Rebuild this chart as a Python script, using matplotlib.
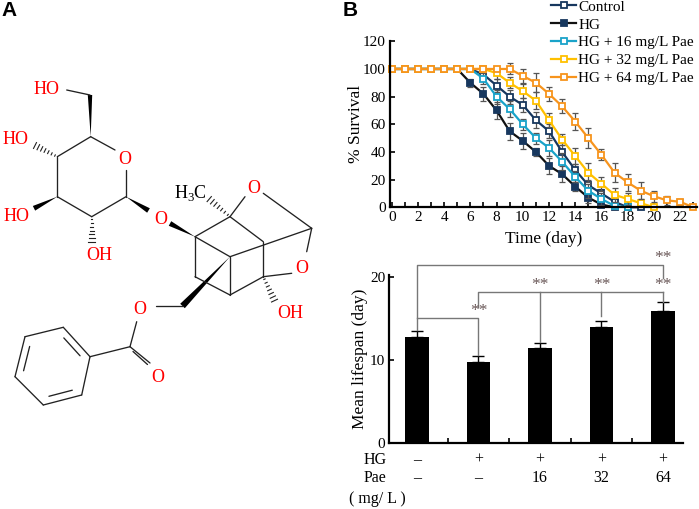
import matplotlib
matplotlib.use('Agg')
import matplotlib.pyplot as plt
from matplotlib.lines import Line2D
from matplotlib.patches import Polygon
import numpy as np

plt.rcParams['font.family'] = ['Liberation Serif', 'DejaVu Serif']
plt.rcParams['mathtext.fontset'] = 'custom'
plt.rcParams['mathtext.rm'] = 'Liberation Serif'

# ---- survival curves (% alive per day) ----
days_control = list(range(0, 20))
control = [100, 100, 100, 100, 100, 100, 100, 96, 88, 80, 74, 63, 55, 40, 27, 16, 10, 4, 0, 0]
control_err = [0, 0, 0, 0, 0, 0, 0, 3, 5, 5, 5, 6, 5, 5, 4, 4, 3, 2, 1, 0]

days_hg = list(range(0, 18))
hg = [100, 100, 100, 100, 100, 100, 90, 82, 70, 55, 48, 40, 30, 24, 15, 7, 2, 0]
hg_err = [0, 0, 0, 0, 0, 0, 3, 5, 6, 6, 6, 3, 6, 6, 3, 4, 2, 0]

days_hg16 = list(range(0, 19))
hg16 = [100, 100, 100, 100, 100, 100, 100, 93, 80, 71, 60, 50, 43, 33, 22, 12, 6, 1, 0]
hg16_err = [0, 0, 0, 0, 0, 0, 0, 4, 5, 6, 4, 4, 6, 6, 4, 5, 4, 2, 0]

days_hg32 = list(range(0, 21))
hg32 = [100, 100, 100, 100, 100, 100, 100, 100, 97, 90, 84, 77, 63, 49, 37, 25, 17, 9, 6, 3, 0]
hg32_err = [0, 0, 0, 0, 0, 0, 0, 0, 4, 4, 5, 6, 5, 4, 6, 7, 5, 5, 4, 3, 0]

days_hg64 = list(range(0, 24))
hg64 = [100, 100, 100, 100, 100, 100, 100, 100, 100, 100, 95, 90, 82, 73, 62, 50, 38, 25, 18, 12, 8, 5, 4, 0]
hg64_err = [0, 0, 0, 0, 0, 0, 0, 0, 0, 4, 5, 7, 5, 5, 6, 7, 4, 7, 6, 6, 4, 3, 2, 0]

series_labels = ['Control', 'HG', 'HG + 16 mg/L Pae', 'HG + 32 mg/L Pae', 'HG + 64 mg/L Pae']

# ---- mean lifespan ----
groups = [0, 1, 2, 3, 4]
lifespan = [12.7, 9.7, 11.4, 13.9, 15.9]
lifespan_err = [0.8, 0.8, 0.6, 0.8, 1.0]
hg_row = ['\u2013', '+', '+', '+', '+']
pae_row = ['\u2013', '\u2013', '16', '32', '64']

fig = plt.figure(figsize=(6.99, 5.09), dpi=100)

# ------------- panel A: structure, drawn in pixel coordinates -------------
mol = fig.add_axes([0, 0, 1, 1])
mol.set_xlim(0, 699)
mol.set_ylim(509, 0)
mol.axis('off')

BOND = '#222222'
RED = '#ff0000'


def bond(p, q, lw=0.95):
    mol.plot([p[0], q[0]], [p[1], q[1]], color=BOND, lw=lw, solid_capstyle='round')


def wedge(narrow, wide, w=2.6):
    a = np.array(narrow, float)
    b = np.array(wide, float)
    d = b - a
    n = np.array([-d[1], d[0]]) / np.hypot(*d)
    mol.add_patch(Polygon([a, b + n * w, b - n * w], closed=True, color='black', lw=0))


def hashed(narrow, wide, n=7, w=3.0):
    a = np.array(narrow, float)
    b = np.array(wide, float)
    d = b - a
    u = np.array([-d[1], d[0]]) / np.hypot(*d)
    for i in range(n):
        t = (i + 0.7) / n
        c = a + d * t
        h = 0.4 + w * t
        mol.plot([c[0] - u[0] * h, c[0] + u[0] * h], [c[1] - u[1] * h, c[1] + u[1] * h],
                 color=BOND, lw=0.8)


def label(x, y, s, color=RED):
    mol.text(x, y, s, color=color, fontsize=13, ha='center', va='center')


# glucose ring
C1, C2, C3, C4, C5 = (126, 196.7), (91.7, 216.7), (57.3, 196.7), (57.3, 156.7), (90.7, 136.7)
CH2 = (90, 95)
bond(C5, (115, 150))
bond((126, 169.5), C1)
bond(C1, C2)
bond(C2, C3)
bond(C3, C4)
bond(C4, C5)
wedge(C5, CH2, 2.2)
bond(CH2, (66.7, 90))
hashed(C4, (34, 145))
wedge(C3, (34, 208.3))
hashed(C2, (91.7, 243))
wedge(C1, (148.5, 210.5))
label(46.7, 89.3, 'HO')
label(16, 139.5, 'HO')
label(16.7, 216.5, 'HO')
label(99.3, 255.5, 'OH')
label(125, 160, 'O')
label(161, 219.5, 'O')

# cage
Ca, Cb, Cc, Cd = (195, 236.7), (230, 216.7), (263.3, 241.7), (263.3, 276.7)
Cx, Ce, Cf, Cac = (230, 256.7), (230, 295), (195, 276.7), (311.7, 228.3)
CH2b = (182.5, 306)
wedge(Ca, (170, 223.5))
bond(Ca, Cb)
hashed(Cb, (208.3, 198.3))
mol.text(190, 193, 'H$_3$C', color='black', fontsize=13, ha='center', va='center')
bond(Cb, (245, 196.7))
label(253.3, 188.5, 'O')
bond((263.3, 193.3), Cac)
bond(Cac, (306.7, 251.7))
label(301.7, 268.5, 'O')
bond((291.7, 273.3), Cd)
hashed(Cd, (275, 301.7))
label(290, 313.5, 'OH')
bond(Cb, Cc)
bond(Cc, Cd)
bond(Ca, Cx)
bond(Cx, Cac)
bond(Cx, Ce)
bond(Ca, Cf)
bond(Cf, Ce)
bond(Ce, Cd)
wedge(Cx, CH2b, 3.2)
bond(CH2b, (155.5, 306))
label(140, 309.5, 'O')

# benzoate
Ck = (130, 346.7)
bond((136.7, 321.7), Ck)
bond(Ck, (150, 363))
bond((133, 351.5), (147.5, 364.5))
label(157.3, 377.5, 'O')
ring = [(90, 356.7), (63.3, 327.3), (25, 336.7), (15, 376.7), (43.3, 405), (81.7, 395)]
bond(Ck, ring[0])
for i in range(6):
    bond(ring[i], ring[(i + 1) % 6])
ctr = np.mean(np.array(ring), axis=0)
for i in (0, 2, 4):
    p = np.array(ring[i]) + (ctr - np.array(ring[i])) * 0.2
    q = np.array(ring[i + 1]) + (ctr - np.array(ring[i + 1])) * 0.2
    p, q = p + (q - p) * 0.12, q - (q - p) * 0.12
    bond(p, q)

mol.text(9, 10.5, 'A', fontsize=15, fontweight='bold', family='Liberation Sans',
         ha='center', va='center')
mol.text(350.5, 10.5, 'B', fontsize=15, fontweight='bold', family='Liberation Sans',
         ha='center', va='center')

# ------------- panel B top: survival -------------
ax = fig.add_axes([390 / 699, 1 - 207.3 / 509, 307 / 699, 166 / 509])
ax.patch.set_alpha(0)
styles = [
    (days_control, control, control_err, '#17375e', 'white', '#17375e'),
    (days_hg, hg, hg_err, '#111111', '#17375e', '#17375e'),
    (days_hg16, hg16, hg16_err, '#1aa3c9', 'white', '#1aa3c9'),
    (days_hg32, hg32, hg32_err, '#ffc000', 'white', '#ffc000'),
    (days_hg64, hg64, hg64_err, '#f7941d', 'white', '#f7941d'),
]
handles = []
for (d, v, e, lc, fc, mc), lab in zip(styles, series_labels):
    ax.errorbar(d, v, yerr=e, fmt='none', ecolor='#555555', elinewidth=0.9,
                capsize=2.5, capthick=0.9, clip_on=False)
    ax.plot(d, v, color=lc, lw=1.6, marker='s', ms=5, mfc=fc, mec=mc, mew=1.3,
            clip_on=False)
    handles.append(Line2D([], [], color=lc, lw=1.6, marker='s', ms=5, mfc=fc,
                          mec=mc, mew=1.3, label=lab))

ax.set_xlim(-0.13, 23.29)
ax.set_ylim(0, 120)
ax.set_xticks(range(0, 23, 2))
ax.set_xticks(range(0, 24), minor=True)
ax.set_yticks(range(0, 121, 20))
ax.tick_params(direction='in', length=3.5, width=1.2, labelsize=11, pad=3)
ax.tick_params(which='minor', direction='in', length=3.5, width=1.2)
for s in ('top', 'right'):
    ax.spines[s].set_visible(False)
for s in ('left', 'bottom'):
    ax.spines[s].set_linewidth(1.6)
ax.set_xlabel('Time (day)', fontsize=12.5, labelpad=5)
ax.set_ylabel('% Survival', fontsize=12.5, labelpad=-1)
fig.legend(handles=handles, loc='upper left', bbox_to_anchor=(551 / 699, 1.0),
           frameon=False, fontsize=11, handlelength=1.65, handletextpad=0.15,
           labelspacing=0.27, borderpad=0, borderaxespad=0.0)

# ------------- panel B bottom: mean lifespan -------------
bx = fig.add_axes([389.3 / 699, 1 - 442.7 / 509, 294 / 699, 167.7 / 509])
bx.patch.set_alpha(0)
bx.bar(groups, lifespan, width=0.38, color='black',
       yerr=[[0] * 5, lifespan_err], error_kw=dict(ecolor='black', elinewidth=1,
                                                   capsize=4, capthick=1))
bx.set_xlim(-0.45, 4.33)
bx.set_ylim(0, 20.2)
bx.set_yticks([0, 10, 20])
bx.set_xticks([0.5, 1.5, 2.5, 3.5])
bx.set_xticklabels([])
bx.tick_params(direction='in', length=3.5, width=1.2, labelsize=11, pad=3)
for s in ('top', 'right'):
    bx.spines[s].set_visible(False)
for s in ('left', 'bottom'):
    bx.spines[s].set_linewidth(1.6)
bx.set_ylabel('Mean lifespan (day)', fontsize=12.5, labelpad=1.5)

LC = '#777777'
SC = '#6a5858'


def seg(xs, ys):
    bx.plot(xs, ys, color=LC, lw=1, clip_on=False)


# control vs 64 (big bracket), control vs HG, HG vs treatments
seg([0, 0, 4, 4], [13.6, 21.4, 21.4, 19.8])
seg([0, 1, 1], [15.06, 15.06, 10.6])
seg([1, 1, 4], [16.4, 18.2, 18.2])
seg([2, 2], [18.2, 12.1])
seg([3, 3], [18.2, 15.3])
seg([4, 4], [18.2, 17.0])
for x, y in [(4, 22.2), (1, 15.9), (2, 19.0), (3, 19.0), (4, 19.0)]:
    bx.text(x, y, '**', color=SC, fontsize=12.5, ha='center', va='center', clip_on=False)

for x, h, p in zip(groups, hg_row, pae_row):
    bx.text(x, -0.103, h, transform=bx.get_xaxis_transform(), fontsize=11.5,
            ha='center', va='center')
    bx.text(x, -0.21, p, transform=bx.get_xaxis_transform(), fontsize=11.5,
            ha='center', va='center')
bx.text(-0.68, -0.103, 'HG', transform=bx.get_xaxis_transform(), fontsize=11.5,
        ha='center', va='center')
bx.text(-0.68, -0.21, 'Pae', transform=bx.get_xaxis_transform(), fontsize=11.5,
        ha='center', va='center')
bx.text(-0.65, -0.336, '( mg/ L )', transform=bx.get_xaxis_transform(), fontsize=11.5,
        ha='center', va='center')

fig.savefig('out.png', dpi=100)
